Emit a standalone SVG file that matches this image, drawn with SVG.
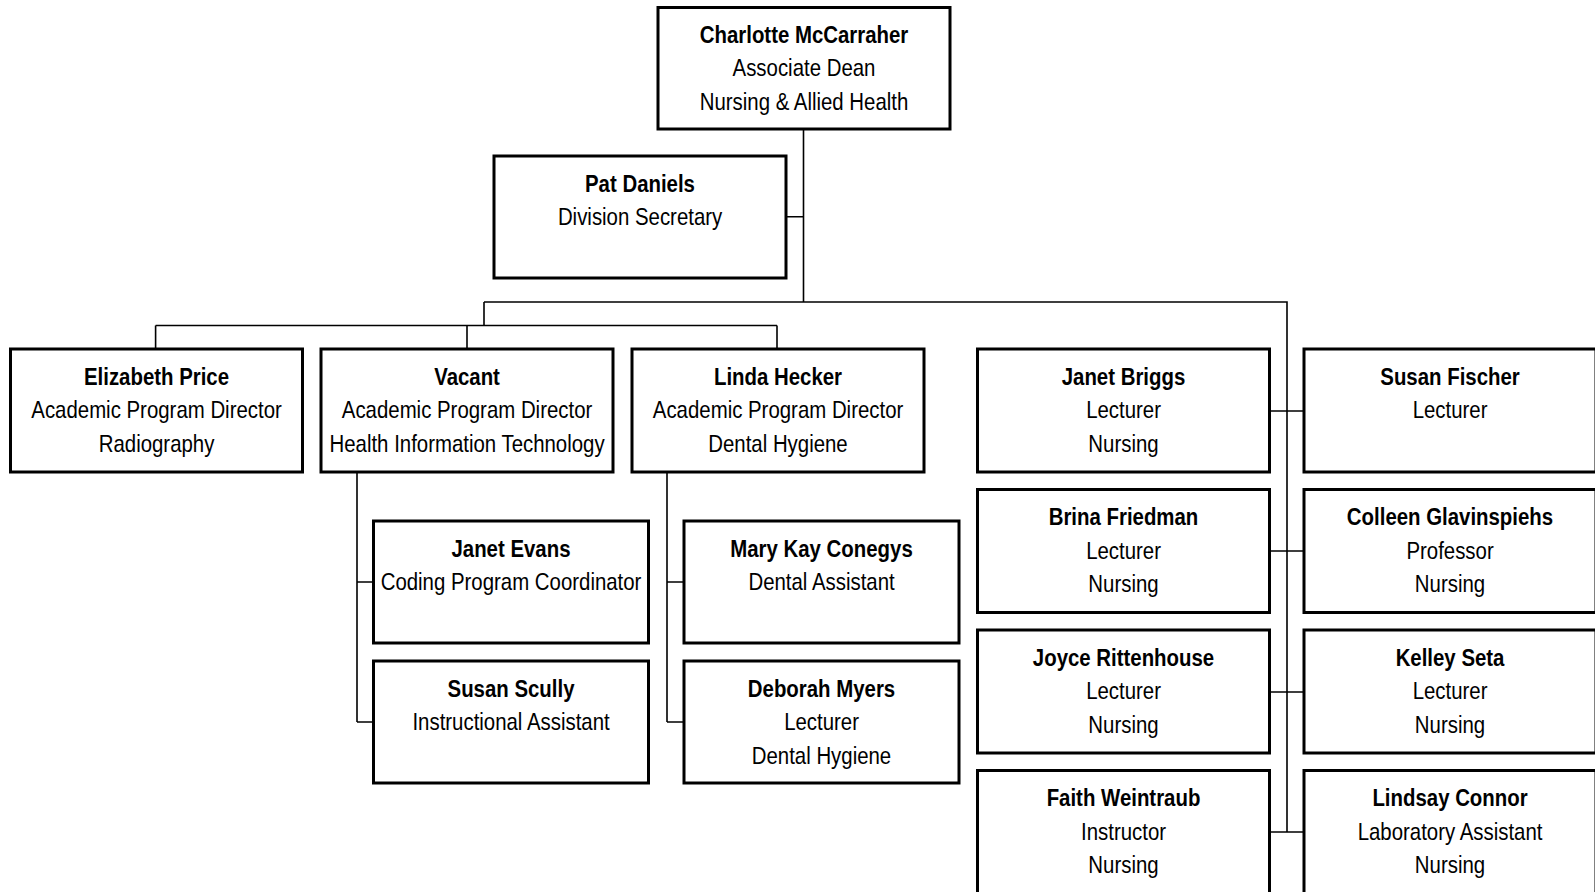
<svg xmlns="http://www.w3.org/2000/svg" width="1595" height="892" viewBox="0 0 1595 892">
<style>
.box{fill:#fff;stroke:#000;stroke-width:3}
.c{fill:none;stroke:#000;stroke-width:1.6}
text{font-family:"Liberation Sans Narrow","Arial Narrow","Liberation Sans",sans-serif;font-size:24px;text-anchor:middle;fill:#000;transform-box:fill-box;transform-origin:center;transform:scaleX(0.85)}
.b{font-weight:bold}
</style>
<rect width="1595" height="892" fill="#fff"/>
<g id="connectors">
<path class="c" d="M803.5,130V302M786,216.7H803.5M484,302H1287V832M484,302V325.5M155.6,325.5H777M155.6,325.5V349M467,325.5V349M777,325.5V349"/>
<path class="c" d="M357,472V722M357,582H373M357,722H373M667,472V722M667,582H683.5M667,722H683.5"/>
<path class="c" d="M1269.5,411H1304M1269.5,551H1304M1269.5,692H1304M1269.5,832H1304"/>
</g>
<g id="n-mccarraher"><rect class="box" x="658" y="7.5" width="292" height="121.5"/><text x="804" y="43" class="b">Charlotte McCarraher</text><text x="804" y="76.5">Associate Dean</text><text x="804" y="110">Nursing &amp; Allied Health</text></g>
<g id="n-daniels"><rect class="box" x="494" y="156" width="292" height="122"/><text x="640" y="192" class="b">Pat Daniels</text><text x="640" y="225.5">Division Secretary</text></g>
<g id="n-price"><rect class="box" x="10.5" y="349" width="292" height="123"/><text x="156.5" y="385" class="b">Elizabeth Price</text><text x="156.5" y="418.5">Academic Program Director</text><text x="156.5" y="452">Radiography</text></g>
<g id="n-vacant"><rect class="box" x="321" y="349" width="292" height="123"/><text x="467" y="385" class="b">Vacant</text><text x="467" y="418.5">Academic Program Director</text><text x="467" y="452">Health Information Technology</text></g>
<g id="n-hecker"><rect class="box" x="632" y="349" width="292" height="123"/><text x="778" y="385" class="b">Linda Hecker</text><text x="778" y="418.5">Academic Program Director</text><text x="778" y="452">Dental Hygiene</text></g>
<g id="n-evans"><rect class="box" x="373.5" y="521" width="275" height="122"/><text x="511" y="557" class="b">Janet Evans</text><text x="511" y="590.5">Coding Program Coordinator</text></g>
<g id="n-scully"><rect class="box" x="373.5" y="661" width="275" height="122"/><text x="511" y="697" class="b">Susan Scully</text><text x="511" y="730.5">Instructional Assistant</text></g>
<g id="n-conegys"><rect class="box" x="684" y="521" width="275" height="122"/><text x="821.5" y="557" class="b">Mary Kay Conegys</text><text x="821.5" y="590.5">Dental Assistant</text></g>
<g id="n-myers"><rect class="box" x="684" y="661" width="275" height="122"/><text x="821.5" y="697" class="b">Deborah Myers</text><text x="821.5" y="730.5">Lecturer</text><text x="821.5" y="764">Dental Hygiene</text></g>
<g id="n-briggs"><rect class="box" x="977.5" y="349" width="292" height="123"/><text x="1123.5" y="385" class="b">Janet Briggs</text><text x="1123.5" y="418.5">Lecturer</text><text x="1123.5" y="452">Nursing</text></g>
<g id="n-fischer"><rect class="box" x="1304" y="349" width="292" height="123"/><text x="1450" y="385" class="b">Susan Fischer</text><text x="1450" y="418.5">Lecturer</text></g>
<g id="n-friedman"><rect class="box" x="977.5" y="489.5" width="292" height="123"/><text x="1123.5" y="525.5" class="b">Brina Friedman</text><text x="1123.5" y="559">Lecturer</text><text x="1123.5" y="592.5">Nursing</text></g>
<g id="n-glavinspiehs"><rect class="box" x="1304" y="489.5" width="292" height="123"/><text x="1450" y="525.5" class="b">Colleen Glavinspiehs</text><text x="1450" y="559">Professor</text><text x="1450" y="592.5">Nursing</text></g>
<g id="n-rittenhouse"><rect class="box" x="977.5" y="630" width="292" height="123"/><text x="1123.5" y="666" class="b">Joyce Rittenhouse</text><text x="1123.5" y="699.5">Lecturer</text><text x="1123.5" y="733">Nursing</text></g>
<g id="n-seta"><rect class="box" x="1304" y="630" width="292" height="123"/><text x="1450" y="666" class="b">Kelley Seta</text><text x="1450" y="699.5">Lecturer</text><text x="1450" y="733">Nursing</text></g>
<g id="n-weintraub"><rect class="box" x="977.5" y="770.5" width="292" height="123"/><text x="1123.5" y="806.5" class="b">Faith Weintraub</text><text x="1123.5" y="840">Instructor</text><text x="1123.5" y="873.5">Nursing</text></g>
<g id="n-connor"><rect class="box" x="1304" y="770.5" width="292" height="123"/><text x="1450" y="806.5" class="b">Lindsay Connor</text><text x="1450" y="840">Laboratory Assistant</text><text x="1450" y="873.5">Nursing</text></g>
</svg>
